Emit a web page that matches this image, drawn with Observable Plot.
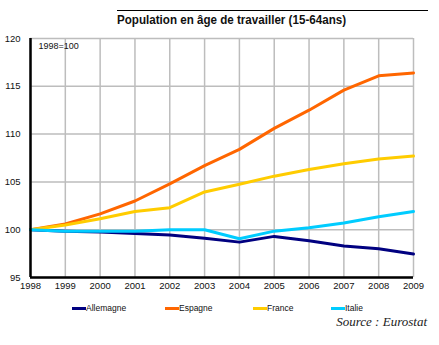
<!DOCTYPE html>
<html><head><meta charset="utf-8">
<script src="https://cdn.jsdelivr.net/npm/d3@7"></script>
<script src="https://cdn.jsdelivr.net/npm/@observablehq/plot@0.6"></script>
<style>
body{margin:0;background:#fff;font-family:"Liberation Sans",Arial,sans-serif;}
#wrap{position:relative;width:439px;height:345px;overflow:hidden;}
#rule{position:absolute;left:117px;top:10px;width:311px;border-top:1.5px solid #000;}
#title{position:absolute;left:117px;top:12px;white-space:nowrap;font-family:"Liberation Sans",Arial,sans-serif;font-weight:bold;font-size:13.5px;line-height:16px;color:#111;transform-origin:0 0;transform:scaleX(0.86);}
#chart{position:absolute;left:0;top:30px;}
.leg{position:absolute;top:302px;font-size:8.5px;line-height:12px;color:#111;display:flex;align-items:center;}
.leg span.sw{display:inline-block;width:14px;height:3px;}
#src{position:absolute;right:12px;top:314px;font-family:"Liberation Serif","Times New Roman",serif;font-style:italic;font-size:13px;color:#222;}
</style></head>
<body>
<div id="wrap">
<div id="rule"></div>
<div id="title">Population en âge de travailler (15-64ans)</div>
<div id="chart"></div>
<div id="legend"></div>
<div id="src">Source : Eurostat</div>
</div>
<script>
const years = [1998,1999,2000,2001,2002,2003,2004,2005,2006,2007,2008,2009];
const allemagne = [100,99.85,99.75,99.6,99.45,99.1,98.7,99.3,98.85,98.3,98.0,97.45];
const espagne   = [100,100.6,101.65,103.0,104.8,106.7,108.4,110.6,112.5,114.6,116.1,116.4];
const france    = [100,100.5,101.15,101.9,102.3,103.95,104.75,105.6,106.3,106.9,107.4,107.7];
const italie    = [100,99.85,99.85,99.85,100.0,100.0,99.05,99.85,100.2,100.7,101.35,101.9];
const countries = ["Allemagne","Espagne","France","Italie"];
const colors = ["#000080","#FF6600","#FFCC00","#00CCFF"];
const yTicks = [95,100,105,110,115,120];
const series = [allemagne, espagne, france, italie];

const data = [];
countries.forEach((c,i)=>years.forEach((y,j)=>data.push({country:c, year:y, value:series[i][j]})));

const chart = Plot.plot({
  width:439, height:270,
  marginLeft:30, marginRight:26, marginTop:8, marginBottom:23,
  style:{fontFamily:"'Liberation Sans',Arial,sans-serif", fontSize:"9.5px", color:"#111", background:"transparent"},
  x:{domain:[1998,2009], label:null},
  y:{domain:[95,120], label:null},
  color:{domain:countries, range:colors},
  marks:[
    Plot.gridX(years,{stroke:"#bdbdbd", strokeOpacity:1, strokeWidth:1.5}),
    Plot.gridY(yTicks,{stroke:"#bdbdbd", strokeOpacity:1, strokeWidth:1.5}),
    Plot.axisX(years,{tickSize:0, tickPadding:5, tickFormat:"d", label:null}),
    Plot.axisY(yTicks,{tickSize:0, tickPadding:10, label:null}),
    Plot.line(data,{x:"year", y:"value", z:"country", stroke:"country", strokeWidth:3, strokeLinejoin:"round"}),
    Plot.ruleX([1998],{stroke:"#000", strokeWidth:2.5}),
    Plot.ruleY([95],{stroke:"#000", strokeWidth:2.5}),
    Plot.text(["1998=100"],{frameAnchor:"top-left", dx:8, dy:4, fontSize:9, fill:"#111"})
  ]
});
document.getElementById("chart").appendChild(chart);

const legX = [72,165,253,331];
const legend = document.getElementById("legend");
countries.forEach((c,i)=>{
  const d = document.createElement("div");
  d.className="leg";
  d.style.left = legX[i]+"px";
  d.innerHTML = `<span class="sw" style="background:${colors[i]}"></span>${c}`;
  legend.appendChild(d);
});
</script>
</body></html>
